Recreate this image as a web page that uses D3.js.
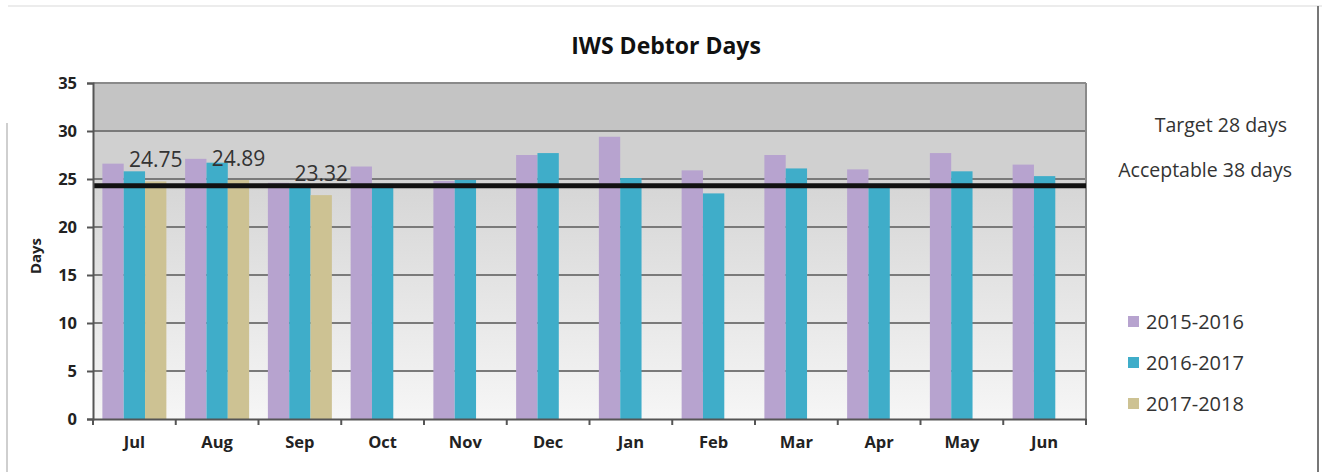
<!DOCTYPE html>
<html>
<head>
<meta charset="utf-8">
<script src="https://cdn.jsdelivr.net/npm/d3@7"></script>
<style>
  body { margin: 0; background: #fff; }
  svg { display: block; font-family: "Open Sans", sans-serif; }
</style>
</head>
<body>
<svg id="chart" width="1322" height="472"></svg>
<script>
// chart data
var months = ["Jul", "Aug", "Sep", "Oct", "Nov", "Dec", "Jan", "Feb", "Mar", "Apr", "May", "Jun"];
var seriesNames = ["2015-2016", "2016-2017", "2017-2018"];
var values_2015 = [26.6, 27.1, 24.6, 26.3, 24.8, 27.5, 29.4, 25.9, 27.5, 26.0, 27.7, 26.5];
var values_2016 = [25.8, 26.7, 24.5, 24.5, 24.9, 27.7, 25.1, 23.5, 26.1, 24.5, 25.8, 25.3];
var values_2017 = [24.75, 24.89, 23.32];
var yTicks = [0, 5, 10, 15, 20, 25, 30, 35];
var targetLine = 24.3;
var sideNotes = ["Target 28 days", "Acceptable 38 days"];

var colors = ["#b7a3cf", "#3fadc9", "#cdc293"];
var allValues = [values_2015, values_2016, values_2017];

var svg = d3.select("#chart");

// frame of the screenshot
svg.append("line").attr("x1", 8).attr("x2", 1322).attr("y1", 6).attr("y2", 6)
    .attr("stroke", "#ececec").attr("stroke-width", 2);
svg.append("line").attr("x1", 7).attr("x2", 7).attr("y1", 123).attr("y2", 472)
    .attr("stroke", "#cfcfcf").attr("stroke-width", 2);
svg.append("line").attr("x1", 1318).attr("x2", 1318).attr("y1", 6).attr("y2", 472)
    .attr("stroke", "#777").attr("stroke-width", 2);

var x = d3.scaleBand().domain(months).range([93, 1086]).paddingInner(0).paddingOuter(0);
var x1 = d3.scaleBand().domain(seriesNames).range([0, x.bandwidth()]).paddingInner(0).paddingOuter(0.44);
var y = d3.scaleLinear().domain([0, 35]).range([419, 83]);

// background bands
var defs = svg.append("defs");
var grad = defs.append("linearGradient").attr("id", "lowband")
    .attr("x1", 0).attr("x2", 0).attr("y1", 0).attr("y2", 1);
grad.append("stop").attr("offset", "0%").attr("stop-color", "#d5d5d5");
grad.append("stop").attr("offset", "100%").attr("stop-color", "#f6f6f6");

svg.append("rect").attr("x", 93).attr("width", 993)
    .attr("y", y(35)).attr("height", y(30) - y(35)).attr("fill", "#c4c4c4");
svg.append("rect").attr("x", 93).attr("width", 993)
    .attr("y", y(30)).attr("height", y(25) - y(30)).attr("fill", "#d0d0d0");
svg.append("rect").attr("x", 93).attr("width", 993)
    .attr("y", y(25)).attr("height", y(0) - y(25)).attr("fill", "url(#lowband)");

// gridlines
svg.append("g").selectAll("line")
    .data(yTicks.filter(function(d){ return d > 0; }))
    .enter().append("line")
    .attr("x1", 93).attr("x2", 1086)
    .attr("y1", function(d){ return y(d); })
    .attr("y2", function(d){ return y(d); })
    .attr("stroke", function(d){ return d == 35 ? "#8a8a8a" : "#7a7a7a"; })
    .attr("stroke-width", 2);

// right border of plot
svg.append("line").attr("x1", 1086).attr("x2", 1086).attr("y1", y(35)).attr("y2", y(0))
    .attr("stroke", "#8a8a8a").attr("stroke-width", 2);

// bars
var rows = [];
seriesNames.forEach(function(s, si) {
    allValues[si].forEach(function(v, i) {
        rows.push({ month: months[i], series: s, value: v, si: si });
    });
});

svg.append("g").selectAll("rect")
    .data(rows)
    .enter().append("rect")
    .attr("x", function(d){ return x(d.month) + x1(d.series); })
    .attr("width", x1.bandwidth())
    .attr("y", function(d){ return y(d.value); })
    .attr("height", function(d){ return y(0) - y(d.value); })
    .attr("fill", function(d){ return colors[d.si]; });

// thick black line
svg.append("line").attr("x1", 93).attr("x2", 1086)
    .attr("y1", y(targetLine)).attr("y2", y(targetLine))
    .attr("stroke", "#111").attr("stroke-width", 5);

// data labels for 2017-2018
svg.append("g").selectAll("text")
    .data(rows.filter(function(d){ return d.si == 2; }))
    .enter().append("text")
    .attr("x", function(d){ return x(d.month) + x1(d.series) + x1.bandwidth() / 2; })
    .attr("y", function(d){ return y(d.value) - 14; })
    .attr("text-anchor", "middle")
    .style("font-size", "21px")
    .attr("fill", "#333")
    .text(function(d){ return d3.format(".2f")(d.value); });

// y axis
var yAxis = svg.append("g").attr("transform", "translate(93,0)")
    .call(d3.axisLeft(y).tickValues(yTicks).tickSize(6).tickPadding(10));
yAxis.select(".domain").attr("stroke", "#555").attr("stroke-width", 2);
yAxis.selectAll(".tick line").attr("stroke", "#555").attr("stroke-width", 2);
yAxis.selectAll(".tick text")
    .style("font-size", "16.5px").style("font-weight", "bold")
    .attr("fill", "#222").attr("font-family", "Open Sans");

// x axis
var xAxis = svg.append("g").attr("transform", "translate(0,419)")
    .call(d3.axisBottom(x).tickSize(0).tickPadding(17));
xAxis.select(".domain").attr("stroke", "#555").attr("stroke-width", 2);
xAxis.selectAll(".tick text")
    .style("font-size", "16.5px").style("font-weight", "bold")
    .attr("fill", "#222").attr("font-family", "Open Sans");
// category boundary ticks
xAxis.selectAll(".bound")
    .data(months.concat(["end"]))
    .enter().append("line")
    .attr("x1", function(d, i){ return i < months.length ? x(d) : 1086; })
    .attr("x2", function(d, i){ return i < months.length ? x(d) : 1086; })
    .attr("y1", 0).attr("y2", 6)
    .attr("stroke", "#555").attr("stroke-width", 2);

// y axis title
svg.append("text")
    .attr("transform", "translate(41,256) rotate(-90)")
    .attr("text-anchor", "middle")
    .style("font-size", "15px").style("font-weight", "bold")
    .attr("fill", "#222")
    .text("Days");

// title
svg.append("text")
    .attr("x", 666).attr("y", 54)
    .attr("text-anchor", "middle")
    .style("font-size", "23px").style("font-weight", "bold")
    .attr("fill", "#111")
    .text("IWS Debtor Days");

// side notes
svg.append("g").selectAll("text")
    .data(sideNotes)
    .enter().append("text")
    .attr("x", function(d, i){ return i == 0 ? 1287 : 1292; })
    .attr("y", function(d, i){ return 132 + i * 45; })
    .attr("text-anchor", "end")
    .style("font-size", "19.5px")
    .attr("fill", "#333")
    .text(function(d){ return d; });

// legend
var legend = svg.append("g").selectAll("g")
    .data(seriesNames)
    .enter().append("g")
    .attr("transform", function(d, i){ return "translate(1128," + (322 + i * 41) + ")"; });
legend.append("rect")
    .attr("x", 0).attr("y", -6).attr("width", 11).attr("height", 11)
    .attr("fill", function(d, i){ return colors[i]; });
legend.append("text")
    .attr("x", 18).attr("y", 7)
    .style("font-size", "20px")
    .attr("fill", "#333")
    .text(function(d){ return d; });
</script>
</body>
</html>
